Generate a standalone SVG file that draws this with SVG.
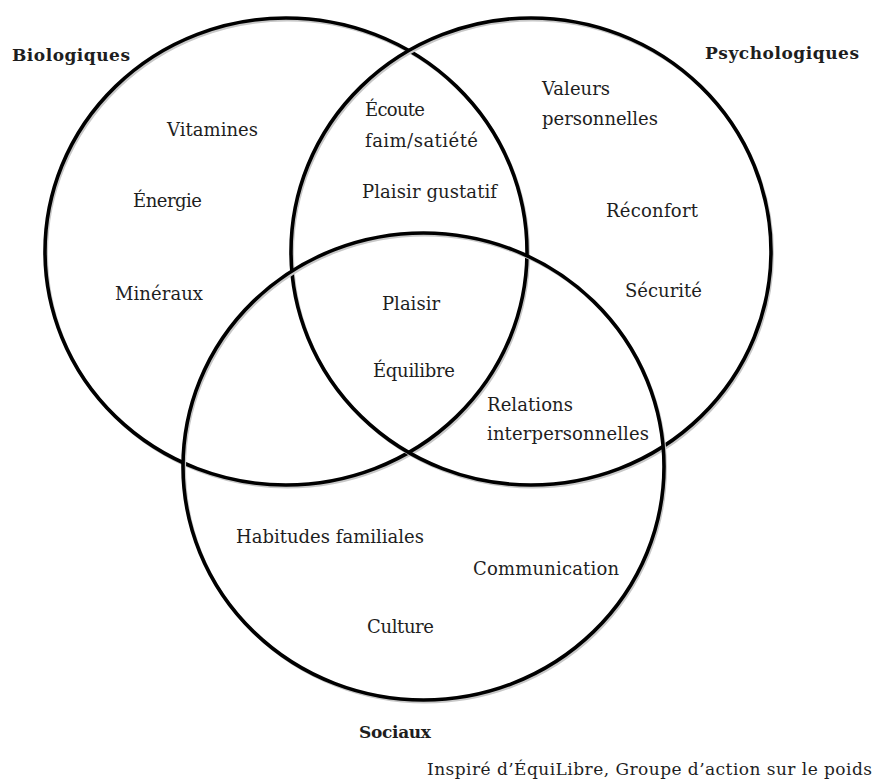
<svg xmlns="http://www.w3.org/2000/svg" width="876" height="780" viewBox="0 0 876 780">
<style>
.ring{fill:none;stroke:#000;stroke-width:3.6}
.shadow{fill:none;stroke:#c8c8c8;stroke-width:3}
text{font-family:"DejaVu Serif","Liberation Serif",serif;fill:#1e1e1e;font-size:18px}
.head{font-weight:bold;font-size:17px}
.note{font-size:17px}
</style>
<rect width="876" height="780" fill="#fff"/>
<g id="connectors"></g>
<g id="biologiques">
<ellipse class="shadow" cx="287.5" cy="253.5" rx="241" ry="233.5"/>
<ellipse class="ring" cx="286" cy="251.5" rx="241" ry="233.5"/>
<text class="head" x="12" y="61" textLength="118">Biologiques</text>
<text x="167" y="136" textLength="91">Vitamines</text>
<text x="133" y="207" textLength="69">Énergie</text>
<text x="115" y="300" textLength="88">Minéraux</text>
</g>
<g id="psychologiques">
<ellipse class="shadow" cx="532.5" cy="253.5" rx="240" ry="233.5"/>
<ellipse class="ring" cx="531" cy="251.5" rx="240" ry="233.5"/>
<text class="head" x="705" y="59" textLength="154">Psychologiques</text>
<text x="542" y="95" textLength="68">Valeurs</text>
<text x="542" y="125" textLength="116">personnelles</text>
<text x="606" y="217" textLength="92">Réconfort</text>
<text x="625" y="297" textLength="77">Sécurité</text>
</g>
<g id="sociaux">
<ellipse class="shadow" cx="425" cy="468.5" rx="240.5" ry="233.5"/>
<ellipse class="ring" cx="423.5" cy="466.5" rx="240.5" ry="233.5"/>
<text class="head" x="359" y="738" textLength="72">Sociaux</text>
<text x="236" y="543" textLength="188">Habitudes familiales</text>
<text x="473" y="575" textLength="146">Communication</text>
<text x="367" y="633" textLength="67">Culture</text>
</g>
<g id="bio-psy">
<text x="365" y="116" textLength="60">Écoute</text>
<text x="365" y="147" textLength="113">faim/satiété</text>
<text x="362" y="198" textLength="135">Plaisir gustatif</text>
</g>
<g id="centre">
<text x="382" y="310" textLength="58">Plaisir</text>
<text x="373" y="377" textLength="82">Équilibre</text>
</g>
<g id="psy-soc">
<text x="487" y="411" textLength="86">Relations</text>
<text x="487" y="440" textLength="162">interpersonnelles</text>
</g>
<g id="source">
<text class="note" x="427" y="775" textLength="445">Inspiré d’ÉquiLibre, Groupe d’action sur le poids</text>
</g>
</svg>
